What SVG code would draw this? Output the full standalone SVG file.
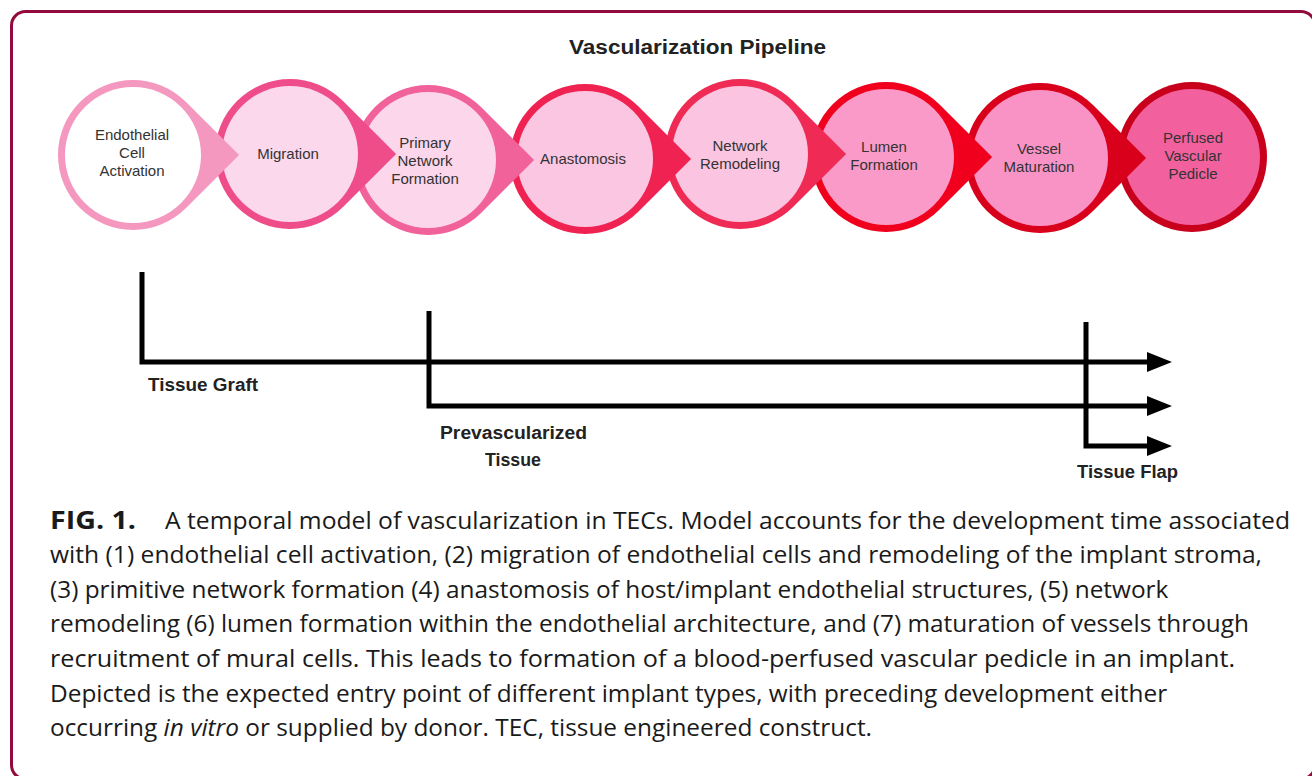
<svg xmlns="http://www.w3.org/2000/svg" width="1312" height="776" viewBox="0 0 1312 776">
<style>
.lbl{font-family:"Liberation Sans",Arial,sans-serif;font-size:15px;fill:#333;text-anchor:middle}
.tl{font-family:"Liberation Sans",Arial,sans-serif;font-size:18px;font-weight:bold;fill:#222}
.cap{font-family:"Open Sans","Liberation Sans",Arial,sans-serif;font-size:24.4px;fill:#1a1a1a}
.ln{stroke:#000;stroke-width:5;fill:none}
.arr{marker-end:url(#ah)}
</style>
<defs>
<path id="drop" d="M106.07,0 L53.03,-53.03 A75,75 0 1 0 53.03,53.03 Z"/>
<marker id="ah" markerUnits="userSpaceOnUse" markerWidth="26" markerHeight="20" refX="0" refY="10" orient="auto">
<path d="M0,0 L25,10 L0,20 Z" fill="#000"/>
</marker>
</defs>
<rect x="11.5" y="11.5" width="1303.5" height="767.5" rx="14" fill="#fff" stroke="#930b3c" stroke-width="3"/>
<text x="569" y="54" font-family="Liberation Sans,Arial,sans-serif" font-size="20" font-weight="bold" fill="#222" textLength="257" lengthAdjust="spacingAndGlyphs">Vascularization Pipeline</text>
<g id="n8"><circle cx="1192" cy="157" r="75" fill="#c8001c"/><circle cx="1192" cy="157" r="68" fill="#f2609e"/><text class="lbl"><tspan x="1193" y="143">Perfused</tspan><tspan x="1193" y="161">Vascular</tspan><tspan x="1193" y="179">Pedicle</tspan></text></g>
<g id="n7"><use href="#drop" x="1040" y="158" fill="#d9001b"/><circle cx="1040" cy="158" r="68" fill="#f993c6"/><text class="lbl"><tspan x="1039" y="154">Vessel</tspan><tspan x="1039" y="172">Maturation</tspan></text></g>
<g id="n6"><use href="#drop" x="886" y="157" fill="#f0001c"/><circle cx="886" cy="157" r="68" fill="#f99ac8"/><text class="lbl"><tspan x="884" y="152">Lumen</tspan><tspan x="884" y="170">Formation</tspan></text></g>
<g id="n5"><use href="#drop" x="740" y="154" fill="#ee2a55"/><circle cx="740" cy="154" r="68" fill="#fbc4e0"/><text class="lbl"><tspan x="740" y="151">Network</tspan><tspan x="740" y="169">Remodeling</tspan></text></g>
<g id="n4"><use href="#drop" x="585" y="159" fill="#f02252"/><circle cx="585" cy="159" r="68" fill="#fbc6e2"/><text class="lbl"><tspan x="583" y="164">Anastomosis</tspan></text></g>
<g id="n3"><use href="#drop" x="428" y="160" fill="#f2629a"/><circle cx="428" cy="160" r="68" fill="#fcd6ea"/><text class="lbl"><tspan x="425" y="148">Primary</tspan><tspan x="425" y="166">Network</tspan><tspan x="425" y="184">Formation</tspan></text></g>
<g id="n2"><use href="#drop" x="290" y="154" fill="#ef4d8a"/><circle cx="290" cy="154" r="68" fill="#fcd8ec"/><text class="lbl"><tspan x="288" y="159">Migration</tspan></text></g>
<g id="n1"><use href="#drop" x="133" y="155" fill="#f598c0"/><circle cx="133" cy="155" r="68" fill="#fff"/><text class="lbl"><tspan x="132" y="140">Endothelial</tspan><tspan x="132" y="158">Cell</tspan><tspan x="132" y="176">Activation</tspan></text></g>
<g id="connectors">
<path class="ln arr" d="M142,272 V362 H1147"/>
<path class="ln arr" d="M429,311 V406 H1147"/>
<path class="ln arr" d="M1086,322 V446 H1147"/>
</g>
<text class="tl" x="148" y="391" textLength="110" lengthAdjust="spacingAndGlyphs">Tissue Graft</text>
<text class="tl" x="440" y="439" textLength="147" lengthAdjust="spacingAndGlyphs">Prevascularized</text>
<text class="tl" x="485" y="466" textLength="56" lengthAdjust="spacingAndGlyphs">Tissue</text>
<text class="tl" x="1077" y="478" textLength="101" lengthAdjust="spacingAndGlyphs">Tissue Flap</text>
<g id="caption">
<text class="cap" x="50" y="529" font-weight="bold" font-size="25.5" textLength="86" lengthAdjust="spacingAndGlyphs">FIG. 1.</text>
<text class="cap" x="165" y="529" textLength="1125" lengthAdjust="spacingAndGlyphs">A temporal model of vascularization in TECs. Model accounts for the development time associated</text>
<text class="cap" x="50" y="563" textLength="1212" lengthAdjust="spacingAndGlyphs">with (1) endothelial cell activation, (2) migration of endothelial cells and remodeling of the implant stroma,</text>
<text class="cap" x="50" y="598">(3) primitive network formation (4) anastomosis of host/implant endothelial structures, (5) network</text>
<text class="cap" x="50" y="632" textLength="1199" lengthAdjust="spacingAndGlyphs">remodeling (6) lumen formation within the endothelial architecture, and (7) maturation of vessels through</text>
<text class="cap" x="50" y="667" textLength="1185" lengthAdjust="spacingAndGlyphs">recruitment of mural cells. This leads to formation of a blood-perfused vascular pedicle in an implant.</text>
<text class="cap" x="50" y="702">Depicted is the expected entry point of different implant types, with preceding development either</text>
<text class="cap" x="50" y="736" textLength="822" lengthAdjust="spacingAndGlyphs">occurring <tspan font-style="italic">in vitro</tspan> or supplied by donor. TEC, tissue engineered construct.</text>
</g>
</svg>
